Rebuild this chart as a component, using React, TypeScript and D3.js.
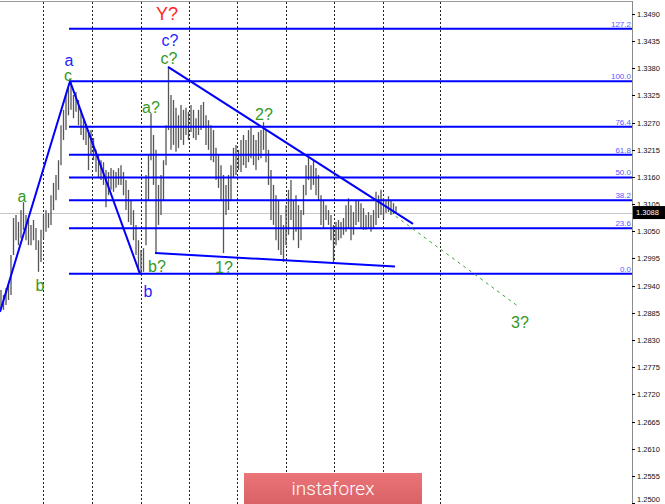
import React from "react";
import * as d3 from "d3";

const W = 665;
const H = 504;
const PLOT_RIGHT = 632;

// Bar highs / lows (oldest first)
const barHigh = [
  1.2931, 1.2921, 1.2935, 1.2941, 1.3002, 1.3077, 1.3083, 1.3069, 1.3093, 1.3109,
  1.3083, 1.3073, 1.3063, 1.3073, 1.3057, 1.3032, 1.3053, 1.3083, 1.3093, 1.3087,
  1.3123, 1.3148, 1.3164, 1.3194, 1.3265, 1.3296, 1.3326, 1.334, 1.3352, 1.3326,
  1.3332, 1.3316, 1.3296, 1.3275, 1.3265, 1.3255, 1.3255, 1.3239, 1.3215, 1.3204,
  1.3194, 1.319, 1.3174, 1.317, 1.3178, 1.3174, 1.317, 1.3178, 1.3184, 1.317,
  1.3154, 1.3134, 1.3113, 1.3093, 1.3063, 1.3032, 1.3012, 1.3016, 1.3164, 1.3204,
  1.3289, 1.3245, 1.3215, 1.3144, 1.3164, 1.3194, 1.3265, 1.3383, 1.3326, 1.3316,
  1.33, 1.3285, 1.3306, 1.3296, 1.33, 1.3292, 1.3306, 1.3296, 1.3279, 1.3296,
  1.3306, 1.3312, 1.3285, 1.3275, 1.3265, 1.3255, 1.3219, 1.3204, 1.3184, 1.3164,
  1.3144, 1.3164, 1.3184, 1.3219, 1.3225, 1.3215, 1.3235, 1.3245, 1.3235, 1.3255,
  1.3261, 1.3245, 1.3235, 1.3251, 1.3255, 1.3271, 1.3255, 1.3215, 1.3174, 1.3144,
  1.3123, 1.3113, 1.3083, 1.3063, 1.3103, 1.3134, 1.3154, 1.3113, 1.3123, 1.3103,
  1.3093, 1.3144, 1.3184, 1.32, 1.3184, 1.3194, 1.3178, 1.3164, 1.3123, 1.3113,
  1.3103, 1.3093, 1.3083, 1.3063, 1.3069, 1.3073, 1.3069, 1.3077, 1.3103, 1.3117,
  1.3103, 1.3089, 1.3113, 1.3113, 1.3107, 1.3097, 1.3083, 1.3089, 1.3083, 1.3093,
  1.313, 1.3123, 1.3134, 1.3117, 1.3113, 1.3121, 1.3113, 1.3107, 1.3101,
];
const barLow = [
  1.2895, 1.2891, 1.2901, 1.2911, 1.2921, 1.3002, 1.3032, 1.3022, 1.3036, 1.3053,
  1.3032, 1.3022, 1.3022, 1.3032, 1.3012, 1.2968, 1.2988, 1.3036, 1.3049, 1.3057,
  1.3063, 1.3093, 1.3113, 1.3134, 1.3184, 1.3235, 1.3255, 1.3285, 1.3296, 1.3279,
  1.3292, 1.3265, 1.3245, 1.3235, 1.3225, 1.3174, 1.3204, 1.3194, 1.317, 1.3158,
  1.3154, 1.3144, 1.3099, 1.3123, 1.3134, 1.313, 1.3138, 1.3144, 1.3144, 1.3123,
  1.3093, 1.3069, 1.3063, 1.3032, 1.3002, 1.2968, 1.2962, 1.2968, 1.3022, 1.3113,
  1.3194, 1.3144, 1.3006, 1.3063, 1.3083, 1.3113, 1.3184, 1.3255, 1.3215, 1.3225,
  1.3211, 1.3219, 1.3235, 1.3225, 1.3245, 1.3235, 1.3251, 1.3239, 1.3235, 1.3245,
  1.3255, 1.3259, 1.3225, 1.3215, 1.3194, 1.319, 1.3154, 1.3138, 1.3113, 1.3006,
  1.3083, 1.3093, 1.3113, 1.3158, 1.3164, 1.3174, 1.317, 1.3184, 1.3178, 1.319,
  1.3198, 1.3184, 1.3174, 1.3194, 1.3198, 1.3215, 1.319, 1.3144, 1.3073, 1.3063,
  1.3032, 1.3012, 1.3002, 1.2988, 1.3022, 1.3043, 1.3073, 1.3032, 1.3049, 1.3016,
  1.3032, 1.3083, 1.3123, 1.3154, 1.3134, 1.3144, 1.3123, 1.3113, 1.3063, 1.3057,
  1.3073, 1.3063, 1.3032, 1.2988, 1.3022, 1.3032, 1.3036, 1.3043, 1.3049, 1.3057,
  1.3032, 1.3043, 1.3063, 1.3069, 1.3057, 1.3053, 1.3053, 1.3057, 1.3049, 1.3057,
  1.3063, 1.3077, 1.3083, 1.3077, 1.3087, 1.3089, 1.3083, 1.3085, 1.3087,
];

// Day separators, in bar-index units
const sessionBreaks = [16.8, 36.4, 56, 75.2, 94.4, 114, 133.2, 152.8, 175.6];

// Price scale labels
const priceTickLabels = [
  "1.2500", "1.2555", "1.2610", "1.2665", "1.2720", "1.2775", "1.2830", "1.2885",
  "1.2940", "1.2995", "1.3050", "1.3105", "1.3160", "1.3215", "1.3270", "1.3325",
  "1.3380", "1.3435", "1.3490",
];
const lastPrice = 1.3088;

// Fibonacci grid anchored on the b-c swing
const fibLevels = [0, 23.6, 38.2, 50, 61.8, 76.4, 100, 127.2];
const fibBase = 1.2964;
const fibTop = 1.3354;
const fibStartIndex = 27.2;

// Wave construction lines (bar index, price)
const waveZigzag = [
  { i: -0.4, p: 1.2887 },
  { i: 27.6, p: 1.3354 },
  { i: 55.6, p: 1.2964 },
];
const upperTrend = [
  { i: 66.8, p: 1.3383 },
  { i: 164.8, p: 1.3065 },
];
const lowerTrend = [
  { i: 61.6, p: 1.3006 },
  { i: 157.6, p: 1.2979 },
];
const projection = [
  { i: 155.6, p: 1.3089 },
  { i: 207.2, p: 1.2897 },
];

// Wave labels: degree decides colour
const waveLabels = [
  { text: "a", i: 8.4, p: 1.3121, degree: "minor" },
  { text: "b", i: 15.6, p: 1.2941, degree: "minor" },
  { text: "a", i: 27.2, p: 1.3397, degree: "intermediate" },
  { text: "c", i: 26.8, p: 1.3366, degree: "minor" },
  { text: "b", i: 58.8, p: 1.2929, degree: "intermediate" },
  { text: "a?", i: 60, p: 1.3302, degree: "minor" },
  { text: "b?", i: 62.4, p: 1.2979, degree: "minor" },
  { text: "Y?", i: 66.4, p: 1.349, degree: "primary" },
  { text: "c?", i: 67.6, p: 1.3437, degree: "intermediate" },
  { text: "c?", i: 67.2, p: 1.3401, degree: "minor" },
  { text: "1?", i: 89.2, p: 1.2978, degree: "minor" },
  { text: "2?", i: 105.2, p: 1.3287, degree: "minor" },
  { text: "3?", i: 207.6, p: 1.2866, degree: "minor" },
];

const degreeColor: Record<string, string> = {
  minor: "#35981f",
  intermediate: "#1f1fff",
  primary: "#ff1f1f",
};
const degreeSize: Record<string, number> = {
  minor: 16,
  intermediate: 16,
  primary: 18,
};

export default function App() {
  const x = d3.scaleLinear().domain([0, barHigh.length - 1]).range([1, 396]);
  const y = d3.scaleLinear().domain([1.25, 1.349]).range([503, 14]);
  const line = d3
    .line<{ i: number; p: number }>()
    .x((d) => x(d.i))
    .y((d) => y(d.p));

  const fibPrice = (lvl: number) => fibBase + (lvl / 100) * (fibTop - fibBase);
  const lastY = y(lastPrice);

  return (
    <svg
      width={W}
      height={H}
      style={{ position: "absolute", left: 0, top: 0, background: "#fff" }}
      fontFamily="'Liberation Sans', Arial, sans-serif"
    >
      <defs>
        <clipPath id="plot">
          <rect x={0} y={0} width={PLOT_RIGHT} height={H} />
        </clipPath>
        <linearGradient id="logoFill" x1="0" y1="0" x2="0" y2="1">
          <stop offset="0" stopColor="#ea7478" />
          <stop offset="1" stopColor="#d45d62" />
        </linearGradient>
      </defs>
      <rect x={0} y={0} width={W} height={H} fill="#fff" />

      {/* day separators */}
      {sessionBreaks.map((b, k) => (
        <line
          key={"sep" + k}
          x1={Math.round(x(b)) + 0.5}
          x2={Math.round(x(b)) + 0.5}
          y1={2}
          y2={H}
          stroke="#222"
          strokeWidth={1}
          strokeDasharray="2,2"
        />
      ))}

      {/* logo band */}
      <rect x={244} y={473} width={178} height={40} fill="url(#logoFill)" />
      <text
        x={333}
        y={495}
        textAnchor="middle"
        fill="#fff"
        fontSize={19}
        fontFamily="Roboto, 'Open Sans', sans-serif"
        fontWeight={300}
      >
        instaforex
      </text>

      {/* last price line */}
      <line x1={0} x2={PLOT_RIGHT} y1={Math.round(lastY) + 0.5} y2={Math.round(lastY) + 0.5} stroke="#c8c8c8" />

      <g clipPath="url(#plot)">
        {/* price bars */}
        {barHigh.map((h, k) => (
          <line
            key={"bar" + k}
            x1={x(k)}
            x2={x(k)}
            y1={y(h)}
            y2={y(barLow[k])}
            stroke="#555"
            strokeWidth={1.3}
          />
        ))}

        {/* fibonacci levels */}
        {fibLevels.map((lvl) => {
          const yy = y(fibPrice(lvl));
          return (
            <g key={"fib" + lvl}>
              <line x1={x(fibStartIndex)} x2={PLOT_RIGHT} y1={yy} y2={yy} stroke="#0000ff" strokeWidth={2} />
              <text x={PLOT_RIGHT - 1} y={yy - 2} textAnchor="end" fontSize={8} fill="#5a5aff">
                {lvl.toFixed(1)}
              </text>
            </g>
          );
        })}

        <path d={line(waveZigzag) ?? ""} fill="none" stroke="#0000ff" strokeWidth={2} />
        <path d={line(upperTrend) ?? ""} fill="none" stroke="#0000ff" strokeWidth={2} />
        <path d={line(lowerTrend) ?? ""} fill="none" stroke="#0000ff" strokeWidth={2} />
        <path
          d={line(projection) ?? ""}
          fill="none"
          stroke="#3aa335"
          strokeWidth={1}
          strokeDasharray="3,4"
        />

        {waveLabels.map((l, k) => (
          <text
            key={"lbl" + k}
            x={x(l.i)}
            y={y(l.p)}
            dy="0.36em"
            textAnchor="middle"
            fontSize={degreeSize[l.degree]}
            fill={degreeColor[l.degree]}
          >
            {l.text}
          </text>
        ))}
      </g>

      {/* frame */}
      <line x1={0} x2={PLOT_RIGHT} y1={1.5} y2={1.5} stroke="#9a9a9a" />
      <line x1={PLOT_RIGHT + 0.5} x2={PLOT_RIGHT + 0.5} y1={1} y2={H} stroke="#8a8a8a" />

      {/* price axis */}
      {priceTickLabels.map((t) => {
        const yy = Math.round(y(+t)) + 0.5;
        return (
          <g key={"tick" + t}>
            <line x1={PLOT_RIGHT} x2={PLOT_RIGHT + 3} y1={yy} y2={yy} stroke="#000" />
            <text x={637} y={Math.min(yy, 499)} dy="0.35em" fontSize={7.5} fill="#111">
              {t}
            </text>
          </g>
        );
      })}

      {/* last price marker */}
      <rect x={633} y={lastY - 6.5} width={32} height={13} fill="#000" />
      <text x={636} y={lastY} dy="0.35em" fontSize={7.5} fill="#fff">
        {lastPrice.toFixed(4)}
      </text>
    </svg>
  );
}
